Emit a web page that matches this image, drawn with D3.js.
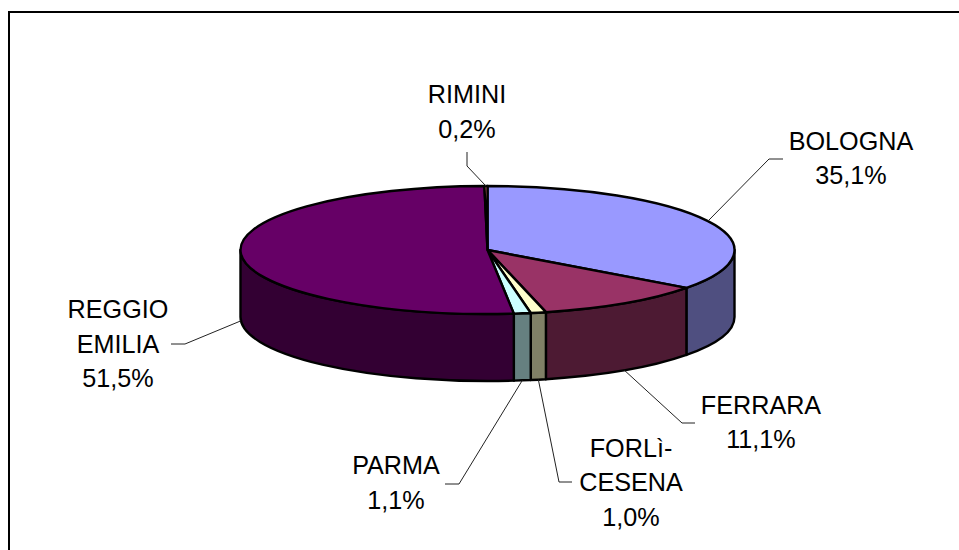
<!DOCTYPE html>
<html>
<head>
<meta charset="utf-8">
<script src="https://cdnjs.cloudflare.com/ajax/libs/d3/7.8.5/d3.min.js"></script>
<style>
html,body{margin:0;padding:0;background:#fff;overflow:hidden}
svg{display:block}
text{font-family:"Liberation Sans",Arial,sans-serif;font-size:25.2px;fill:#000;text-anchor:middle}
</style>
</head>
<body>
<svg id="c" width="959" height="550"></svg>
<script>
const categories = ["BOLOGNA","FERRARA","FORLÌ-CESENA","PARMA","REGGIO EMILIA","RIMINI"];
const values = [35.1,11.1,1.0,1.1,51.5,0.2];
const topColors = ["#9999FF","#993366","#FFFFCC","#CCFFFF","#660066","#FF8080"];
const sideColors = ["#4F4F80","#4D1A33","#808066","#668080","#330033","#804040"];
const labelLines = [["BOLOGNA"],["FERRARA"],["FORLì-","CESENA"],["PARMA"],["REGGIO","EMILIA"],["RIMINI"]];

// layout
const W=959,H=550,cx=487.5,cy=250,rx=247,ry=64,depth=67,lineH=34.5;
const labelPos = [{x:851,y:149.5},{x:761,y:413.5},{x:631,y:456.5},{x:396,y:474},{x:118,y:318},{x:467,y:103}];
const elbows = [[[769,159],[783,159]],[[682,423],[695,423]],[[559,482],[572,482]],[[459,484],[445,484]],[[185,344],[171,344]],[[467,166],[467,152]]];

const fmt = v => v.toFixed(1).replace(".",",")+"%";
const X = d3.scaleLinear().domain([-1,1]).range([cx-rx,cx+rx]);
const Y = d3.scaleLinear().domain([-1,1]).range([cy-ry,cy+ry]);
const px = a => X(Math.sin(a)), py = a => Y(-Math.cos(a));

const pie = d3.pie().sort(null).value(d=>d);
const arcs = pie(values);
const svg = d3.select("#c");

// outer frame (only top and left edges are visible)
svg.append("path").attr("d",`M9,${H}V12H${W}`).attr("fill","none").attr("stroke","#000").attr("stroke-width",2);

const arcTo = (a0,a1,dy=0,sweep=1) => {
  const large = Math.abs(a1-a0)>Math.PI?1:0;
  return `A${rx},${ry} 0 ${large} ${sweep} ${px(a1)},${py(a1)+dy}`;
};

const g = svg.append("g").attr("stroke","#000").attr("stroke-width",2.4).attr("stroke-linejoin","round");

// front wall
g.selectAll("path.side").data(arcs.filter(d=>d.endAngle>Math.PI/2 && d.startAngle<3*Math.PI/2)).join("path")
 .attr("class","side")
 .attr("fill",d=>sideColors[d.index])
 .attr("d",d=>{
   const a0=Math.max(d.startAngle,Math.PI/2), a1=Math.min(d.endAngle,3*Math.PI/2);
   return `M${px(a0)},${py(a0)}`+arcTo(a0,a1)+`L${px(a1)},${py(a1)+depth}`+arcTo(a1,a0,depth,0)+"Z";
 });

// top face
g.selectAll("path.top").data(arcs).join("path")
 .attr("class","top")
 .attr("fill",d=>topColors[d.index])
 .attr("d",d=>`M${X(0)},${Y(0)}L${px(d.startAngle)},${py(d.startAngle)}`+arcTo(d.startAngle,d.endAngle)+"Z");

// leader lines
svg.append("g").selectAll("path").data(arcs).join("path")
 .attr("fill","none").attr("stroke","#222").attr("stroke-width",1)
 .attr("d",d=>{
   const m=(d.startAngle+d.endAngle)/2;
   const inFront=Math.cos(m)<0 && Math.abs(Math.sin(m))<1;
   const sx=px(m), sy=py(m)+(inFront?depth:0);
   return d3.line()([[sx,sy],...elbows[d.index]]);
 });

// labels
const lab = svg.append("g").selectAll("text").data(arcs).join("text")
 .attr("x",d=>labelPos[d.index].x).attr("y",d=>labelPos[d.index].y);
lab.selectAll("tspan").data(d=>[...labelLines[d.index],fmt(d.value)].map(t=>({t,i:d.index}))).join("tspan")
 .attr("x",d=>labelPos[d.i].x).attr("dy",(d,i)=>i?lineH:0).text(d=>d.t);
</script>
</body>
</html>
